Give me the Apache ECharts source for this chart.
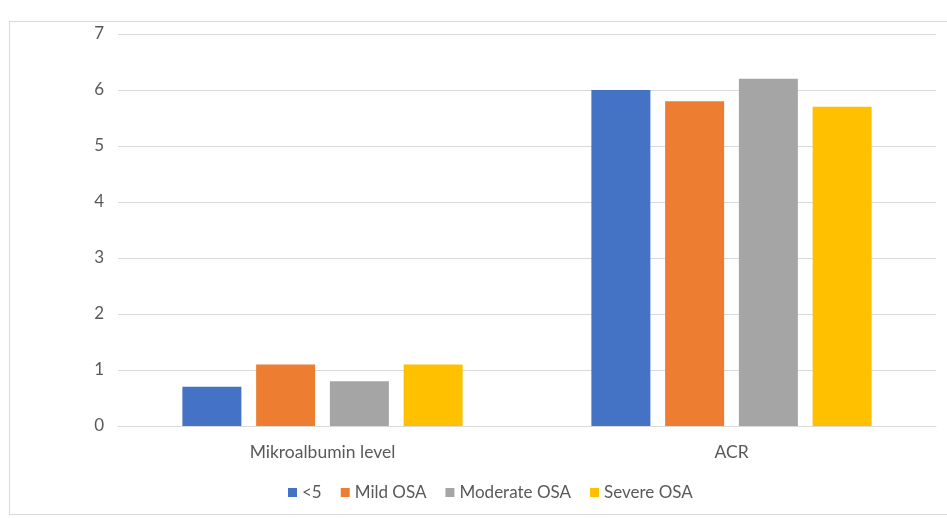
<!DOCTYPE html>
<html>
<head>
<meta charset="utf-8">
<script src="https://cdn.jsdelivr.net/npm/echarts@6/dist/echarts.min.js"></script>
<style>
  html, body { margin: 0; padding: 0; background: #fff; }
  #frame { position: absolute; left: 9px; top: 21px; width: 960px; height: 494px; border: 1px solid #d9d9d9; box-sizing: border-box; }
  #chart { position: absolute; left: 0; top: 0; width: 947px; height: 518px; }
</style>
</head>
<body>
<div id="frame"></div>
<div id="chart"></div>
<script>
const categories = ['Mikroalbumin level', 'ACR']
const seriesNames = ['<5', 'Mild OSA', 'Moderate OSA', 'Severe OSA']
const lessThan5 = [0.7, 6.0]
const mildOSA = [1.1, 5.8]
const moderateOSA = [0.8, 6.2]
const severeOSA = [1.1, 5.7]
const colors = ['#4472c4', '#ed7d31', '#a5a5a5', '#ffc000']

const values = [lessThan5, mildOSA, moderateOSA, severeOSA]
const font = 'Lato, "Open Sans", sans-serif'

const chartDom = document.getElementById('chart')
const chartInstance = echarts.init(chartDom)
chartInstance.setOption({
  animation: false,
  color: colors,
  textStyle: { fontFamily: font },
  legend: {
    bottom: 12,
    left: 283,
    itemWidth: 9,
    itemHeight: 9,
    itemGap: 19,
    icon: 'rect',
    textStyle: { color: '#595959', fontSize: 17, fontFamily: font },
    data: seriesNames
  },
  grid: {
    left: 118,
    right: 11,
    top: 34,
    bottom: 92
  },
  xAxis: {
    type: 'category',
    data: categories,
    axisLine: { show: true, lineStyle: { color: '#d9d9d9' } },
    axisTick: { show: false },
    axisLabel: { color: '#595959', fontSize: 17.5, margin: 17, fontFamily: font }
  },
  yAxis: {
    type: 'value',
    min: 0,
    max: 7,
    interval: 1,
    axisLine: { show: false },
    axisTick: { show: false },
    splitLine: { lineStyle: { color: '#d9d9d9', width: 1 } },
    axisLabel: { color: '#595959', fontSize: 17, margin: 14, fontFamily: font }
  },
  series: seriesNames.map((name, i) => ({
    name: name,
    type: 'bar',
    barWidth: 59,
    barGap: '25%',
    data: values[i]
  }))
})
</script>
</body>
</html>
